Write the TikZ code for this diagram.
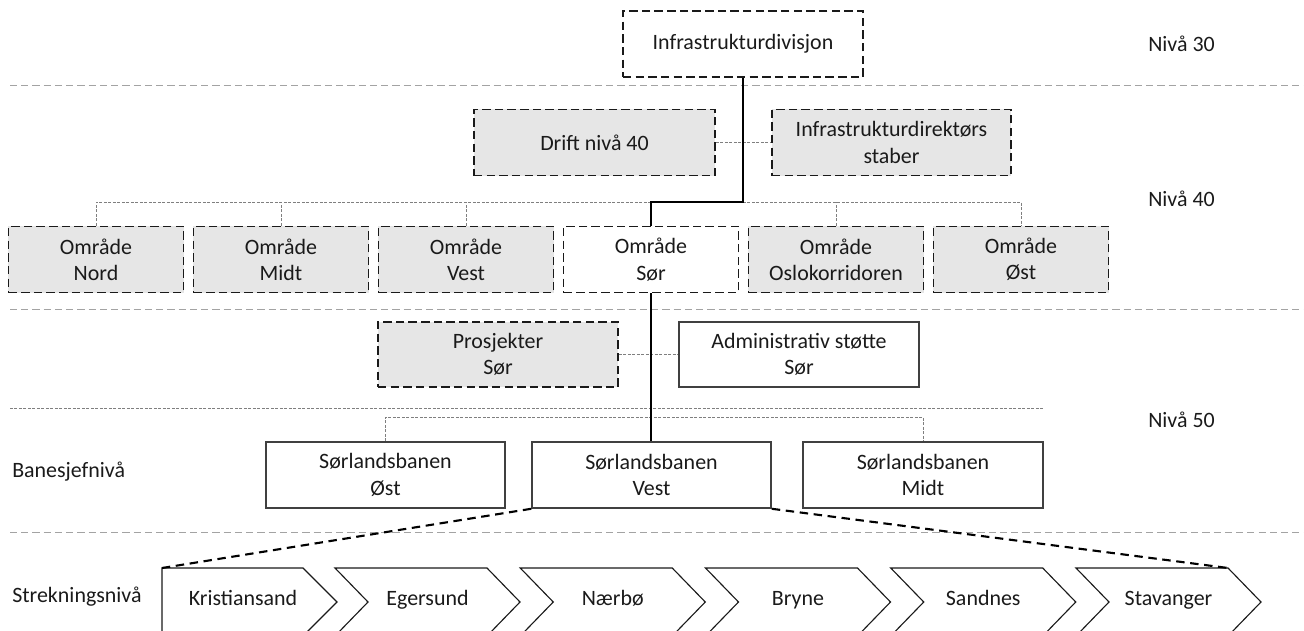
\documentclass[tikz,border=0pt]{standalone}
\usepackage{fontspec}
\setmainfont{Carlito}
\usepackage{tikz}
\usetikzlibrary{calc}

\definecolor{boxgray}{HTML}{E6E6E6}
\definecolor{linegray}{HTML}{A3A3A3}
\definecolor{dotgray}{HTML}{7F7F7F}
\definecolor{inkblack}{HTML}{1A1A1A}

\tikzset{
  orgbox/.style={draw=inkblack, line width=1.1pt, dash pattern=on 6pt off 3pt,
    align=center, inner sep=0pt, minimum height=1.65cm, text=inkblack},
  grayorg/.style={orgbox, fill=boxgray},
  solidorg/.style={draw=black!75, line width=1.1pt, align=center, inner sep=0pt,
    minimum height=1.65cm, text=inkblack},
  levelline/.style={linegray, line width=0.7pt, dash pattern=on 5pt off 3pt},
  dotline/.style={dotgray, line width=0.6pt, dash pattern=on 2pt off 1.2pt},
  mainline/.style={black, line width=2pt},
  fanline/.style={black, line width=1.5pt, dash pattern=on 6pt off 4pt},
  chevron/.style={draw=inkblack, line width=0.8pt, fill=white},
  chevlabel/.style={inner sep=0pt, text height=1.4ex, text depth=0pt, text=inkblack},
  levellabel/.style={anchor=west, inner sep=0pt, text=inkblack}
}

\begin{document}
\begin{tikzpicture}[x=0.025cm, y=-0.025cm, font=\fontsize{15.6}{18.7}\selectfont]

\useasboundingbox (0,0) rectangle (1304,631);

% level separators
\draw [levelline] (10,85) -- (1304,85);
\draw [levelline] (10,309) -- (1304,309);
\draw [dotline] (10,408) -- (1043,408);
\draw [levelline] (10,532) -- (1304,532);

\node [levellabel] (niva30) at (1148,44) {Nivå 30};
\node [levellabel] (niva40) at (1148,199) {Nivå 40};
\node [levellabel] (niva50) at (1148,420) {Nivå 50};
\node [levellabel] (banesjef) at (12,472) {Banesjefnivå};
\node [levellabel] (strekning) at (12,597) {Strekningsnivå};

% nivaa 30 and 40
\node [orgbox, minimum width=6cm] (infra) at (743,44) {Infrastrukturdivisjon};
\node [grayorg, minimum width=6.025cm] (drift) at (594.5,142.5) {Drift nivå 40};
\node [grayorg, minimum width=5.975cm] (stab) at (891.5,142.5) {Infrastrukturdirektørs\\staber};
\draw [dotline] (drift.east) -- (stab.west);

\foreach \name/\txt/\look [count=\i from 0] in {nord/Nord/grayorg, midt/Midt/grayorg,
    vest/Vest/grayorg, sor/Sør/orgbox, oslo/Oslokorridoren/grayorg, ost/Øst/grayorg}
  \node [\look, minimum width=4.375cm] (omr-\name) at (96+185*\i,259.5) {Område\\\txt};

\coordinate (bus40) at (0,202);
\draw [dotline] (omr-nord.north) -- (omr-nord.north |- bus40) -- (omr-ost.north |- bus40) -- (omr-ost.north);
\foreach \name in {midt, vest, oslo}
  \draw [dotline] (omr-\name.north) -- (omr-\name.north |- bus40);
\draw [mainline] (infra.south) -- (infra.south |- bus40) -| (omr-sor.north);

% under omraade sor
\node [grayorg, minimum width=6cm, minimum height=1.625cm] (pros) at (498,354.5) {Prosjekter\\Sør};
\node [solidorg, minimum width=6cm, minimum height=1.625cm] (admin) at (799,354.5) {Administrativ støtte\\Sør};
\draw [dotline] (pros.east) -- (admin.west);

% nivaa 50
\node [solidorg, minimum width=5.975cm] (sb-ost) at (385.5,475) {Sørlandsbanen\\Øst};
\node [solidorg, minimum width=5.975cm] (sb-vest) at (651.5,475) {Sørlandsbanen\\Vest};
\node [solidorg, minimum width=6cm] (sb-midt) at (923,475) {Sørlandsbanen\\Midt};

\coordinate (bus50) at (0,417);
\draw [dotline] (sb-ost.north) |- (bus50 -| sb-midt.north) -- (sb-midt.north);
\draw [mainline] (omr-sor.south) -- (omr-sor.south |- sb-vest.north);

% strekninger
\coordinate (kris-tl) at (162,568);
\draw [chevron] (kris-tl) -- (303,568) -- (337,602) -- (303,636) -- (162,636) -- cycle;
\node [chevlabel] (str-kris) at (243,601) {Kristiansand};
\foreach \txt [count=\i from 0] in {Egersund, Nærbø, Bryne, Sandnes, Stavanger} {
  \pgfmathsetmacro{\L}{335+185.25*\i}
  \draw [chevron] (\L,568) -- ++(152,0) -- ++(33,34) -- ++(-33,34) -- ++(-152,0) -- ++(33,-34) -- cycle;
  \node [chevlabel] (str-\i) at (\L+92.5,601) {\txt};
}
\coordinate (stav-tr) at (1228,568);

\draw [fanline] (sb-vest.south west) -- (kris-tl);
\draw [fanline] (sb-vest.south east) -- (stav-tr);

\end{tikzpicture}
\end{document}
